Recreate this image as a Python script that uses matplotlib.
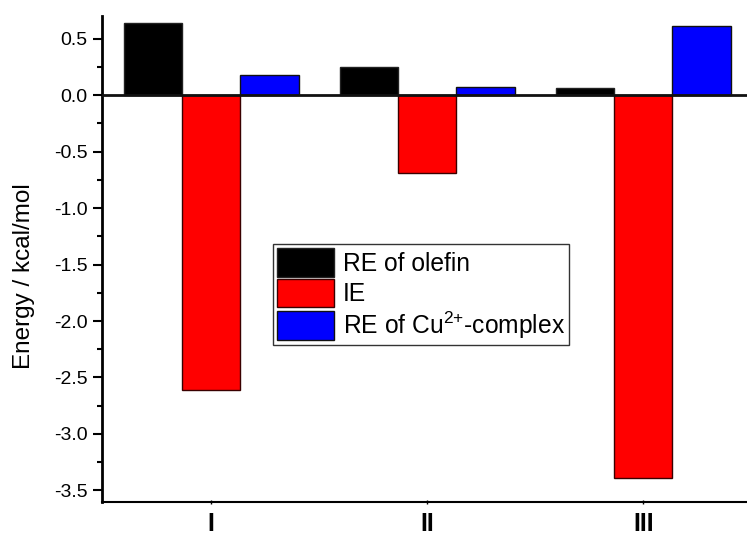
import matplotlib.pyplot as plt
import numpy as np
from matplotlib.ticker import MultipleLocator

plt.rcParams['font.family'] = ['Liberation Sans', 'DejaVu Sans']
plt.rcParams['axes.unicode_minus'] = False
plt.rcParams['mathtext.fontset'] = 'custom'
plt.rcParams['mathtext.rm'] = 'Liberation Sans'

groups = ['I', 'II', 'III']
re_olefin = [0.64, 0.25, 0.06]       # RE of olefin
ie = [-2.61, -0.69, -3.39]           # IE
re_cu = [0.18, 0.07, 0.61]           # RE of Cu2+-complex

x = np.arange(1, len(groups) + 1)
w = 0.27

fig = plt.figure(figsize=(7.47, 5.36), dpi=100)
ax = fig.add_axes([0.1365, 0.064, 0.8635, 0.906])

ax.bar(x - w, re_olefin, w, color='#000000', edgecolor='#222222', lw=1, label='RE of olefin')
ax.bar(x, ie, w, color='#ff0000', edgecolor='#3a0000', lw=1, label='IE')
ax.bar(x + w, re_cu, w, color='#0000ff', edgecolor='#111111', lw=1,
       label=r'RE of Cu$\mathregular{^{2{+}}}$-complex')
ax.axhline(0, color='#111111', lw=2, zorder=3)

ax.set_xlim(0.495, 3.48)
ax.set_ylim(-3.6, 0.7)
ax.yaxis.set_major_locator(MultipleLocator(0.5))
ax.yaxis.set_minor_locator(MultipleLocator(0.25))
ax.set_xticks(x)
ax.set_xticklabels(groups, fontsize=18, fontweight='bold')
ax.tick_params(axis='x', length=2.5, width=1, direction='inout', pad=6)
ax.tick_params(axis='y', which='major', length=6.5, width=1.5, labelsize=14, pad=4)
ax.tick_params(axis='y', which='minor', length=3.6, width=1.5)

for s in ['top', 'right']:
    ax.spines[s].set_visible(False)
ax.spines['left'].set_linewidth(2)
ax.spines['bottom'].set_linewidth(1.5)

ax.set_ylabel('Energy / kcal/mol', fontsize=17.5)
ax.yaxis.set_label_coords(-0.104, 0.465)

leg = ax.legend(loc='upper left', bbox_to_anchor=(273 / 747, 1 - 244 / 536),
                bbox_transform=fig.transFigure, borderaxespad=0, fontsize=17.7,
                handlelength=2.3, handleheight=1.4, labelspacing=0.08,
                handletextpad=0.35, borderpad=0.18, fancybox=False, framealpha=1)
leg.get_frame().set_edgecolor('#333333')
leg.get_frame().set_linewidth(1)

fig.savefig('out.png', dpi=100)
